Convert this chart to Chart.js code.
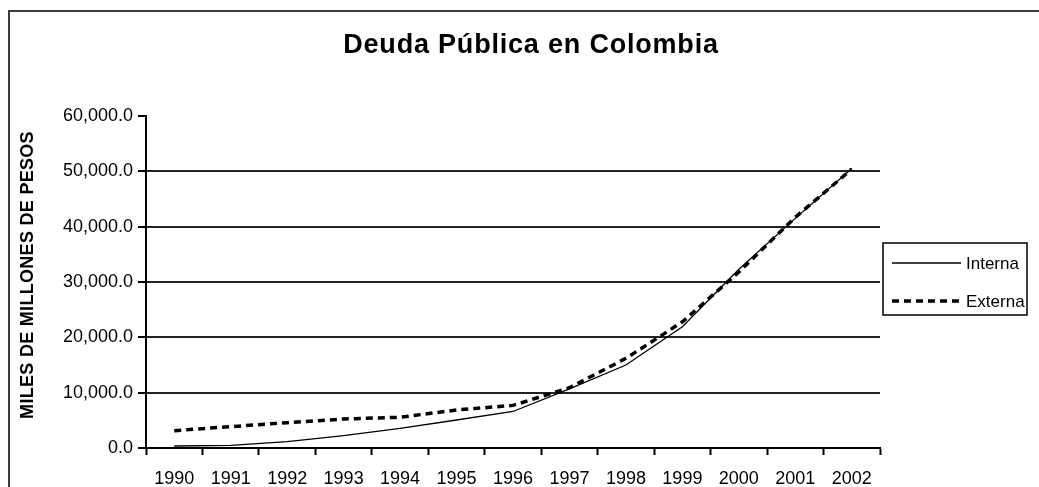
<!DOCTYPE html>
<html>
<head>
<meta charset="utf-8">
<script src="https://cdn.jsdelivr.net/npm/chart.js@4.4.1/dist/chart.umd.min.js"></script>
<style>
    html, body { margin: 0; padding: 0; background: #fff; overflow: hidden; }
    #wrap { width: 1039px; height: 487px; }
</style>
</head>
<body>
<div id="wrap"><canvas id="deudaChart" width="1039" height="487"></canvas></div>
<script>
// years on the category axis
const years = ['1990', '1991', '1992', '1993', '1994', '1995', '1996', '1997', '1998', '1999', '2000', '2001', '2002'];
// miles de millones de pesos
const interna = [360, 480, 1140, 2230, 3550, 5060, 6600, 10700, 15000, 21900, 32300, 41500, 50500];
const externa = [3130, 3860, 4580, 5240, 5550, 6870, 7700, 10900, 16200, 22800, 31800, 41700, 50400];
const yTicks = [0, 10000, 20000, 30000, 40000, 50000, 60000];

const chartTitle = 'Deuda Pública en Colombia';
const yTitle = 'MILES DE MILLONES DE PESOS';
const FONT = '"Liberation Sans", Arial, sans-serif';

// frame, titles and legend box, drawn by hand like the old spreadsheet chart
const decorPlugin = {
    id: 'decor',
    beforeDraw: function (chart) {
        const ctx = chart.ctx;
        ctx.save();
        ctx.fillStyle = '#fff';
        ctx.fillRect(0, 0, chart.width, chart.height);
        ctx.strokeStyle = '#3a3a3a';
        ctx.lineWidth = 2;
        ctx.strokeRect(9, 11, 1200, 800);
        ctx.restore();
    },
    afterDraw: function (chart) {
        const ctx = chart.ctx;
        ctx.save();
        // title
        ctx.fillStyle = '#000';
        ctx.font = 'bold 27px ' + FONT;
        ctx.textAlign = 'center';
        ctx.textBaseline = 'alphabetic';
        ctx.letterSpacing = '0.8px';
        ctx.fillText(chartTitle, 531, 53);

        // y axis title
        ctx.save();
        ctx.translate(28, 275);
        ctx.rotate(-Math.PI / 2);
        ctx.font = 'bold 18px ' + FONT;
        ctx.letterSpacing = '0.3px';
        ctx.textBaseline = 'middle';
        ctx.fillText(yTitle, 0, 0);
        ctx.restore();
        ctx.letterSpacing = '0px';

        // legend
        const bx = 883, by = 243, bw = 144, bh = 72;
        ctx.strokeStyle = '#000';
        ctx.lineWidth = 1.5;
        ctx.strokeRect(bx, by, bw, bh);
        const rows = [263, 301];
        ctx.font = '17px ' + FONT;
        ctx.textAlign = 'left';
        ctx.textBaseline = 'middle';
        chart.data.datasets.forEach(function (ds, i) {
            const y = rows[i];
            ctx.beginPath();
            ctx.setLineDash(ds.borderDash || []);
            ctx.lineWidth = ds.borderWidth;
            ctx.strokeStyle = ds.borderColor;
            ctx.moveTo(892, y);
            ctx.lineTo(961, y);
            ctx.stroke();
            ctx.setLineDash([]);
            ctx.fillStyle = '#000';
            ctx.fillText(ds.label, 966, y + 1);
        });
        ctx.restore();
    }
};

const ctx = document.getElementById('deudaChart').getContext('2d');

const deudaChart = new Chart(ctx, {
    type: 'line',
    data: {
        labels: years,
        datasets: [{
            label: 'Interna',
            data: interna,
            borderColor: '#000',
            borderWidth: 1.3,
            pointRadius: 0,
            fill: false,
            tension: 0
        },
            {
                label: 'Externa',
                data: externa,
                borderColor: '#000',
                borderWidth: 3.5,
                borderDash: [7, 5],
                borderCapStyle: 'butt',
                pointRadius: 0,
                fill: false,
                tension: 0
            }]
    },
    options: {
        responsive: false,
        animation: false,
        layout: {
            padding: { left: 0, right: 159, top: 116, bottom: 0 }
        },
        plugins: {
            legend: { display: false },
            title: { display: false },
            tooltip: { enabled: false }
        },
        scales: {
            x: {
                type: 'category',
                offset: true,
                grid: {
                    offset: true,
                    drawOnChartArea: false,
                    tickLength: 7,
                    tickColor: '#000',
                    tickWidth: 2,
                    color: '#000'
                },
                border: { display: true, color: '#000', width: 2 },
                ticks: {
                    color: '#000',
                    font: { family: FONT, size: 18 },
                    padding: 13,
                    maxRotation: 0,
                    autoSkip: false
                },
                afterFit: function (scale) {
                    scale.height = 39;
                }
            },
            y: {
                min: 0,
                max: 60000,
                afterBuildTicks: function (scale) {
                    scale.ticks = yTicks.map(function (v) { return { value: v }; });
                },
                grid: {
                    color: function (c) {
                        const v = c.tick ? c.tick.value : null;
                        return (v === 0 || v === 60000) ? 'rgba(0,0,0,0)' : '#222';
                    },
                    lineWidth: 2,
                    tickLength: 8,
                    tickColor: '#000',
                    tickWidth: 2
                },
                border: { display: true, color: '#000', width: 2 },
                ticks: {
                    color: '#000',
                    font: { family: FONT, size: 18 },
                    padding: 5,
                    callback: function (value) {
                        return Number(value).toLocaleString('en-US', { minimumFractionDigits: 1, maximumFractionDigits: 1 });
                    }
                },
                title: { display: false },
                afterFit: function (scale) {
                    scale.width = 146;
                }
            }
        }
    },
    plugins: [decorPlugin]
});
</script>
</body>
</html>
